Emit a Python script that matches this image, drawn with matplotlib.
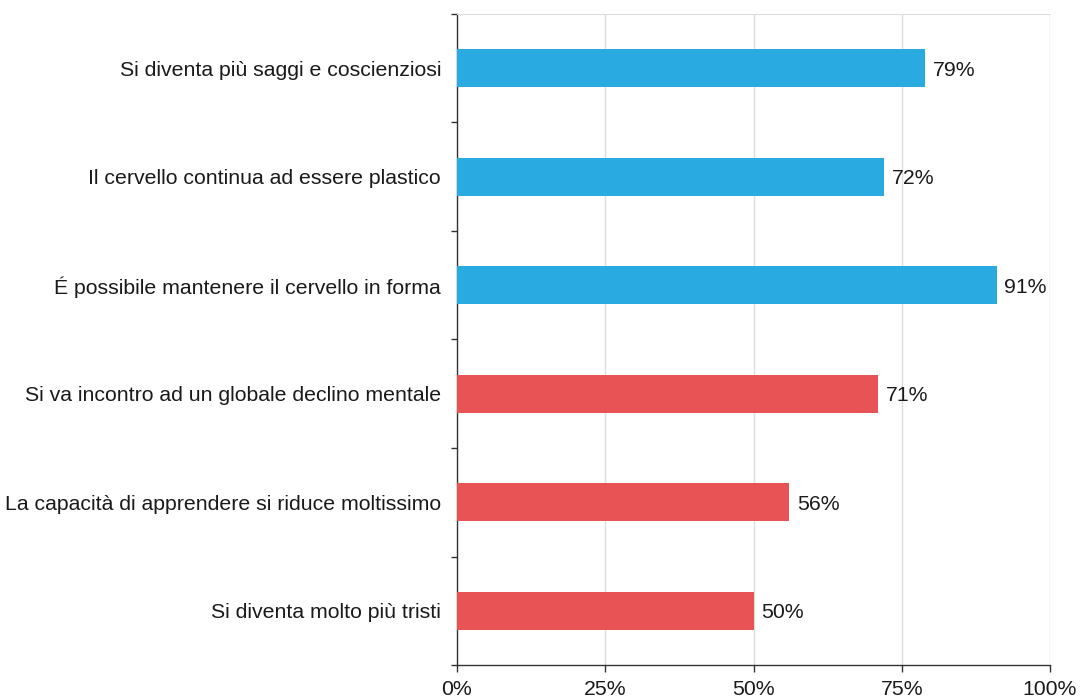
import matplotlib
matplotlib.use("Agg")
import matplotlib.pyplot as plt
from matplotlib.ticker import FixedLocator

plt.rcParams['font.family'] = ['Liberation Sans', 'DejaVu Sans']

# data (top to bottom)
labels = [
    "Si diventa più saggi e coscienziosi",
    "Il cervello continua ad essere plastico",
    "É possibile mantenere il cervello in forma",
    "Si va incontro ad un globale declino mentale",
    "La capacità di apprendere si riduce moltissimo",
    "Si diventa molto più tristi",
]
values = [79, 72, 91, 71, 56, 50]
groups = ["pos", "pos", "pos", "neg", "neg", "neg"]
xticks = [0, 25, 50, 75, 100]

blue = "#29ABE2"
red = "#E85455"
colors = [blue if g == "pos" else red for g in groups]

fig = plt.figure(figsize=(10.8, 7), dpi=100)
ax = fig.add_axes([457/1080, 1 - 665/700, (1050 - 457)/1080, (665 - 14)/700])

pos = list(range(len(labels)))
ax.barh(pos, values, height=0.35, color=colors, zorder=3)
for p, v in zip(pos, values):
    ax.text(v + 1.3, p + 0.02, f"{v}%", va="center", ha="left", fontsize=15.3, color="#1a1a1a")

ax.set_ylim(len(labels) - 0.5, -0.5)
ax.set_xlim(0, 100)
ax.set_yticks(pos)
ax.set_yticklabels(labels, fontsize=15.3, color="#1a1a1a")
ax.yaxis.set_minor_locator(FixedLocator([i - 0.5 for i in range(len(labels) + 1)]))
ax.tick_params(axis="y", which="major", length=0, pad=11.5)
ax.tick_params(axis="y", which="minor", length=4, width=1, color="#333333")

ax.set_xticks(xticks)
ax.set_xticklabels([f"{t}%" for t in xticks], fontsize=15.3, color="#1a1a1a")
ax.tick_params(axis="x", length=5, width=1, color="#333333", pad=6)

ax.grid(axis="x", color="#dddddd", linewidth=1, zorder=0)
for s in ["left", "bottom"]:
    ax.spines[s].set_color("#333333")
    ax.spines[s].set_linewidth(1)
ax.spines["top"].set_color("#dddddd")
ax.spines["right"].set_visible(False)

fig.savefig("out.png", dpi=100)
